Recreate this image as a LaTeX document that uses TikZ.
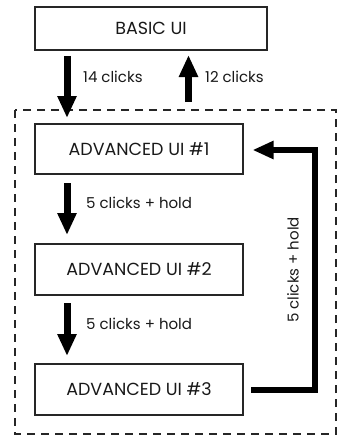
\documentclass[tikz,border=0pt]{standalone}
\usepackage{fontspec}
\setmainfont{Poppins}
\usetikzlibrary{arrows.meta}
\begin{document}
\begin{tikzpicture}[x=1pt,y=-1pt,
  box/.style={draw=black!85,line width=1.3pt,inner sep=0pt,font=\fontsize{17.5}{20}\selectfont,text=black!90},
  lbl/.style={font=\fontsize{15}{18}\selectfont,text=black!90,inner sep=0pt},
  bigarrow/.style={line width=7pt,-{Triangle[length=22pt,width=18pt]}},
  retarrow/.style={line width=6pt,-{Triangle[length=21pt,width=17pt]}}]
\useasboundingbox (0,0) rectangle (341,436);
% dashed group
\draw[line width=1.2pt,dash pattern=on 8pt off 6pt,black!85] (15,110) rectangle (336,434);
% boxes
\node[box,minimum width=232pt,minimum height=43pt] (basic) at (151,28.5) {BASIC UI};
\node[box,minimum width=208pt,minimum height=50pt] (adv1) at (139,149) {ADVANCED UI \#1};
\node[box,minimum width=208pt,minimum height=51pt] (adv2) at (139,269.5) {ADVANCED UI \#2};
\node[box,minimum width=208pt,minimum height=51pt] (adv3) at (139,389.5) {ADVANCED UI \#3};
% arrow coordinates
\coordinate (a1s) at (67,56);
\coordinate (a1e) at (67,118);
\coordinate (a2s) at (188.5,102);
\coordinate (a2e) at (188.5,55);
\coordinate (a3s) at (67,183);
\coordinate (a3e) at (67,235);
\coordinate (a4s) at (67,303);
\coordinate (a4e) at (67,356);
\coordinate (rs) at (251,390);
\coordinate (rc1) at (315,390);
\coordinate (rc2) at (315,150);
\coordinate (re) at (252.5,150);
\draw[bigarrow] (a1s) -- (a1e);
\draw[bigarrow] (a2s) -- (a2e);
\draw[bigarrow] (a3s) -- (a3e);
\draw[bigarrow] (a4s) -- (a4e);
\draw[retarrow] (rs) -- (rc1) -- (rc2) -- (re);
% labels
\node[lbl,anchor=west] (l1) at (83,77) {14 clicks};
\node[lbl,anchor=west] (l2) at (205,77) {12 clicks};
\node[lbl,anchor=west] (l3) at (86,203) {5 clicks + hold};
\node[lbl,anchor=west] (l4) at (86,324) {5 clicks + hold};
\node[lbl,rotate=90] (l5) at (293,270) {5 clicks + hold};
\end{tikzpicture}
\end{document}
